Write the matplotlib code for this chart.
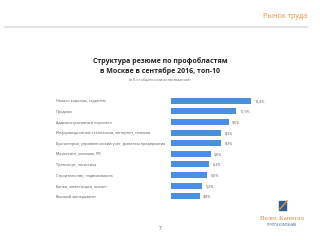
import matplotlib.pyplot as plt
import matplotlib.patches as mpatches
import numpy as np

categories = [
    "Начало карьеры, студенты",
    "Продажи",
    "Административный персонал",
    "Информационные технологии, интернет, телеком",
    "Бухгалтерия, управленческий учет, финансы предприятия",
    "Маркетинг, реклама, PR",
    "Транспорт, логистика",
    "Строительство, недвижимость",
    "Банки, инвестиции, лизинг",
    "Высший менеджмент",
]
values = [13.4, 10.9, 9.6, 8.3, 8.3, 6.6, 6.3, 6.0, 5.2, 4.8]

title = "Структура резюме по профобластям\nв Москве в сентябре 2016, топ-10"
subtitle = "(в % от общего количества вакансий)"
header = "Рынок труда"

plt.rcParams['font.family'] = ['Open Sans', 'DejaVu Sans']

fig = plt.figure(figsize=(3.2, 2.4), dpi=100)
fig.patch.set_facecolor('white')

# header
fig.text(307 / 320, 1 - 17 / 240, header, color='#e8913c', fontsize=5.2,
         ha='right', va='center')
fig.add_artist(plt.Line2D([5 / 320, 307 / 320], [1 - 27 / 240, 1 - 27 / 240],
                          color='#e3e3e3', lw=1.5))

fig.text(0.5, 1 - 66 / 240, title, fontsize=5.0, fontweight='bold',
         ha='center', va='center', linespacing=1.45, color='#222222')
fig.text(0.5, 1 - 79.5 / 240, subtitle, fontsize=2.4, ha='center',
         va='center', color='#666666')

ax = fig.add_axes([171 / 320, 1 - 201.5 / 240, 120 / 320, 106 / 240])
y = np.arange(len(categories))
ax.barh(y, values, height=0.58, color='#4a90e2')
ax.set_xlim(0, 20)
ax.set_ylim(len(categories) - 0.5, -0.5)
ax.set_yticks(y)
ax.set_yticklabels(categories, fontsize=2.7, color='#555555')
ax.tick_params(axis='y', pad=83, length=0)
for lbl in ax.get_yticklabels():
    lbl.set_ha('left')
ax.set_xticks([])
for s in ax.spines.values():
    s.set_visible(False)

for yi, v in zip(y, values):
    ax.text(v + 0.6, yi, f"{v:.1f}%".replace('.', ','), fontsize=2.7,
            va='center', ha='left', color='#555555')

# page number
fig.text(0.5, 1 - 229 / 240, "7", fontsize=3.5, ha='center', va='center',
         color='#555555')

# logo
fig.add_artist(mpatches.Rectangle((279 / 320, 1 - 210 / 240), 7 / 320, 9 / 240,
                                  color='#2f5f8f'))
fig.add_artist(plt.Line2D([280 / 320, 287 / 320], [1 - 209 / 240, 1 - 201 / 240],
                          color='#e8913c', lw=1.0))
fig.text(282 / 320, 1 - 219 / 240, "Велес Капитал", fontsize=5,
         family='Liberation Serif', color='#d98a45', ha='center', va='center')
fig.text(282 / 320, 1 - 225 / 240, "ГРУППА КОМПАНИЙ", fontsize=2.2,
         color='#2f5f8f', ha='center', va='center')

fig.savefig('out.png', dpi=100)
